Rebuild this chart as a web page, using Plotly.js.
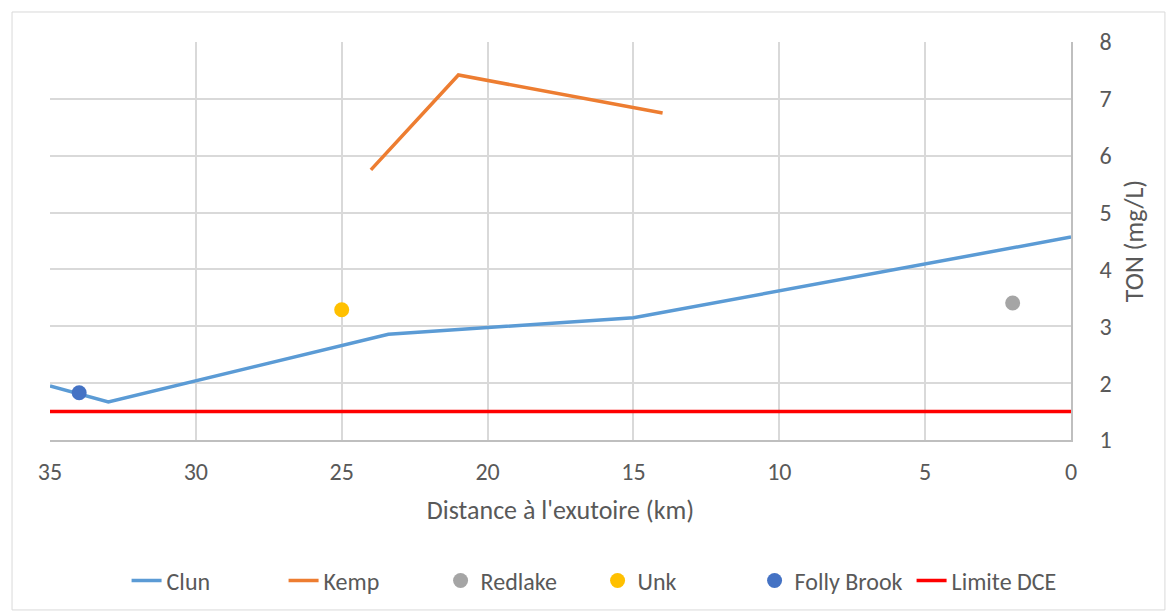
<!DOCTYPE html>
<html><head><meta charset="utf-8">
<script src="https://cdn.plot.ly/plotly-3.0.1.min.js"></script>
<style>html,body{margin:0;padding:0;background:#fff}#chart{width:1167px;height:612px}</style>
</head><body><div id="chart"></div>
<script>
const clunX = [35, 33, 23.4, 15, 0];
const clunY = [1.95, 1.67, 2.86, 3.15, 4.57];
const kempX = [24, 21, 14];
const kempY = [5.75, 7.42, 6.75];
const redlakeX = [2];
const redlakeY = [3.41];
const unkX = [25];
const unkY = [3.29];
const follyX = [34];
const follyY = [1.83];
const limiteX = [35, 0];
const limiteY = [1.5, 1.5];
const xTicks = [35, 30, 25, 20, 15, 10, 5, 0];
const yTicks = [1, 2, 3, 4, 5, 6, 7, 8];

const font = {family: 'Calibri, Carlito, "Open Sans", sans-serif', color: '#595959'};
const traces = [
  {x: clunX, y: clunY, name: 'Clun', mode: 'lines', line: {color: '#5B9BD5', width: 3.5}},
  {x: kempX, y: kempY, name: 'Kemp', mode: 'lines', line: {color: '#ED7D31', width: 3.5}},
  {x: redlakeX, y: redlakeY, name: 'Redlake', mode: 'markers', marker: {color: '#A5A5A5', size: 15}},
  {x: unkX, y: unkY, name: 'Unk', mode: 'markers', marker: {color: '#FFC000', size: 15}},
  {x: follyX, y: follyY, name: 'Folly Brook', mode: 'markers', marker: {color: '#4472C4', size: 15}},
  {x: limiteX, y: limiteY, name: 'Limite DCE', mode: 'lines', line: {color: '#FF0000', width: 3.5}}
];
const layout = {
  width: 1167, height: 612,
  margin: {l: 50, r: 96, t: 42, b: 172, autoexpand: false},
  paper_bgcolor: '#fff', plot_bgcolor: '#fff',
  font: Object.assign({size: 24}, font),
  showlegend: true,
  xaxis: {
    range: [35, 0], autorange: false, tickvals: xTicks, ticktext: xTicks.map(String),
    automargin: false,
    showgrid: true, gridcolor: '#D9D9D9', gridwidth: 1.5, zeroline: false,
    showline: true, linecolor: '#BFBFBF', linewidth: 1.5,
    ticklabelstandoff: 9, tickfont: {size: 24, color: '#595959'},
    title: {text: "Distance à l'exutoire (km)", font: {size: 26, color: '#595959'}, standoff: 16}
  },
  yaxis: {
    range: [1, 8], autorange: false, side: 'right', tickvals: yTicks,
    automargin: false,
    showgrid: true, gridcolor: '#D9D9D9', gridwidth: 1.5, zeroline: false,
    showline: true, linecolor: '#BFBFBF', linewidth: 1.5, mirror: false,
    ticklabelstandoff: 22, tickfont: {size: 24, color: '#595959'},
    title: {text: 'TON (mg/L)', font: {size: 26, color: '#595959'}, standoff: 14}
  },
  legend: {
    orientation: 'h', x: 0.075, xanchor: 'left', y: -0.354, yanchor: 'middle',
    font: {size: 24, color: '#595959'}, itemwidth: 30,
    entrywidth: 112, entrywidthmode: 'pixels', bgcolor: 'rgba(0,0,0,0)'
  },
  shapes: [{
    type: 'rect', xref: 'paper', yref: 'paper',
    x0: -0.0372, x1: 1.092, y0: -0.427, y1: 1.0754,
    line: {color: '#D9D9D9', width: 1}, fillcolor: 'rgba(0,0,0,0)', layer: 'below'
  }]
};
Plotly.newPlot('chart', traces, layout, {displayModeBar: false});
</script></body></html>
